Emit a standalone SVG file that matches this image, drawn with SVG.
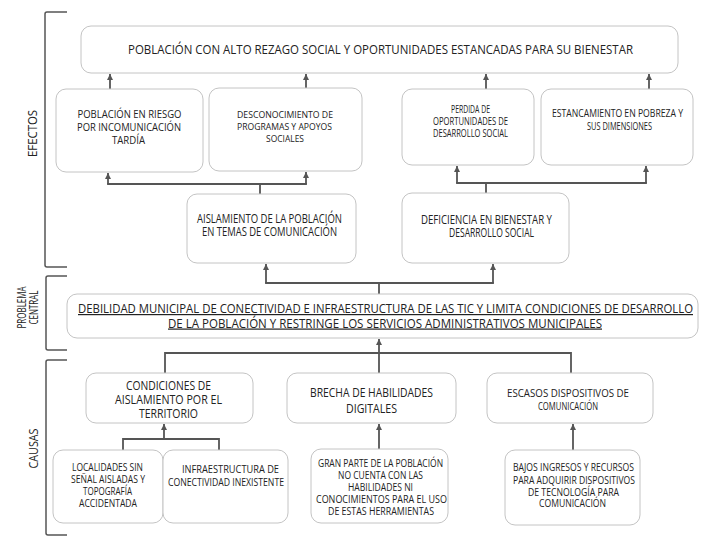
<svg xmlns="http://www.w3.org/2000/svg" width="702" height="539" viewBox="0 0 702 539">
<defs>
<marker id="ah" viewBox="0 0 10 10" refX="10" refY="5" markerWidth="7" markerHeight="6" markerUnits="userSpaceOnUse" orient="auto">
<path d="M0,0 L10,5 L0,10 z" fill="#555"/>
</marker>
</defs>
<style>
.box{fill:#fff;stroke:#c4c4c4;stroke-width:1}
.t{font-family:"Open Sans","Liberation Sans",sans-serif;fill:#222;text-anchor:middle}
.c{fill:none;stroke:#555;stroke-width:1.8}
.a{fill:none;stroke:#555;stroke-width:1.8;marker-end:url(#ah)}
.br{fill:none;stroke:#555;stroke-width:1.5}
</style>
<rect width="702" height="539" fill="#fff"/>

<g id="labels">
<path class="br" d="M67,12 H47 Q45,12 45,14 V265 Q45,267 47,267 H67"/>
<path class="br" d="M67,276 H48 Q46,276 46,278 V348 Q46,350 48,350 H67"/>
<path class="br" d="M67,360 H48 Q46,360 46,362 V533 Q46,535 48,535 H67"/>
<text class="t" font-size="13" transform="translate(36.5,133.5) rotate(-90)" textLength="47" lengthAdjust="spacingAndGlyphs">EFECTOS</text>
<text class="t" font-size="12.5" transform="translate(26,307.5) rotate(-90)" textLength="42" lengthAdjust="spacingAndGlyphs">PROBLEMA</text>
<text class="t" font-size="12.5" transform="translate(38,307.5) rotate(-90)" textLength="34" lengthAdjust="spacingAndGlyphs">CENTRAL</text>
<text class="t" font-size="13" transform="translate(38,448.5) rotate(-90)" textLength="40" lengthAdjust="spacingAndGlyphs">CAUSAS</text>
</g>

<g id="connectors">
<path class="a" d="M110,89 V74"/>
<path class="a" d="M306,88 V74"/>
<path class="a" d="M486,89 V74"/>
<path class="a" d="M649,89 V74"/>
<path class="c" d="M260,194 V184 M107.1,184 H306.9"/>
<path class="a" d="M108,184 V173"/>
<path class="a" d="M306,184 V172"/>
<path class="c" d="M486,193 V183 M456.1,183 H646.9"/>
<path class="a" d="M457,183 V166"/>
<path class="a" d="M646,183 V166"/>
<path class="c" d="M379,294 V283 M265.1,283 H493.9"/>
<path class="a" d="M266,283 V264"/>
<path class="a" d="M493,283 V264"/>
<path class="a" d="M379,373 V339"/>
<path class="c" d="M165,373 V353 H571 V373"/>
<path class="a" d="M164,439 V424"/>
<path class="c" d="M123,450 V439 H219 V450"/>
<path class="a" d="M379,449 V424"/>
<path class="a" d="M573,450 V424"/>
</g>

<g id="n-top">
<rect class="box" x="81" y="26" width="597" height="47" rx="10"/>
<text class="t" font-size="12" x="380.5" y="53.5" textLength="505" lengthAdjust="spacingAndGlyphs">POBLACIÓN CON ALTO REZAGO SOCIAL Y OPORTUNIDADES ESTANCADAS PARA SU BIENESTAR</text>
</g>

<g id="n-riesgo">
<rect class="box" x="56" y="89" width="147" height="83" rx="10"/>
<text class="t" font-size="10" x="129.5" y="118" textLength="104" lengthAdjust="spacingAndGlyphs">POBLACIÓN EN RIESGO</text>
<text class="t" font-size="10" x="129" y="131" textLength="104" lengthAdjust="spacingAndGlyphs">POR INCOMUNICACIÓN</text>
<text class="t" font-size="10" x="128.5" y="144" textLength="33" lengthAdjust="spacingAndGlyphs">TARDÍA</text>
</g>

<g id="n-desconocimiento">
<rect class="box" x="209" y="88" width="153" height="83" rx="10"/>
<text class="t" font-size="9.5" x="285" y="117.5" textLength="96" lengthAdjust="spacingAndGlyphs">DESCONOCIMIENTO  DE</text>
<text class="t" font-size="9.5" x="284.5" y="130" textLength="95" lengthAdjust="spacingAndGlyphs">PROGRAMAS Y APOYOS</text>
<text class="t" font-size="9.5" x="285" y="141.5" textLength="38" lengthAdjust="spacingAndGlyphs">SOCIALES</text>
</g>

<g id="n-perdida">
<rect class="box" x="402" y="89" width="132" height="76" rx="10"/>
<text class="t" font-size="10" x="470.5" y="112.5" textLength="39" lengthAdjust="spacingAndGlyphs">PERDIDA DE</text>
<text class="t" font-size="10" x="470.5" y="125" textLength="75" lengthAdjust="spacingAndGlyphs">OPORTUNIDADES DE</text>
<text class="t" font-size="10" x="470.5" y="137" textLength="75" lengthAdjust="spacingAndGlyphs">DESARROLLO SOCIAL</text>
</g>

<g id="n-estancamiento">
<rect class="box" x="541" y="89" width="152" height="76" rx="10"/>
<text class="t" font-size="10" x="617.5" y="117" textLength="131" lengthAdjust="spacingAndGlyphs">ESTANCAMIENTO EN POBREZA Y</text>
<text class="t" font-size="10" x="619.5" y="130" textLength="65" lengthAdjust="spacingAndGlyphs">SUS DIMENSIONES</text>
</g>

<g id="n-aislamiento-pob">
<rect class="box" x="187" y="194" width="169" height="69" rx="10"/>
<text class="t" font-size="12" x="269.5" y="222.5" textLength="145" lengthAdjust="spacingAndGlyphs">AISLAMIENTO DE LA POBLACIÓN</text>
<text class="t" font-size="12" x="269.5" y="235.5" textLength="135" lengthAdjust="spacingAndGlyphs">EN TEMAS DE COMUNICACIÓN</text>
</g>

<g id="n-deficiencia">
<rect class="box" x="402" y="193" width="167" height="70" rx="10"/>
<text class="t" font-size="12" x="486.5" y="224" textLength="131" lengthAdjust="spacingAndGlyphs">DEFICIENCIA EN BIENESTAR Y</text>
<text class="t" font-size="12" x="491.5" y="236.5" textLength="85" lengthAdjust="spacingAndGlyphs">DESARROLLO SOCIAL</text>
</g>

<g id="n-central">
<rect class="box" x="67" y="294" width="631" height="44" rx="10"/>
<text class="t" font-size="12" x="385.5" y="313" textLength="615" lengthAdjust="spacingAndGlyphs" text-decoration="underline">DEBILIDAD MUNICIPAL DE CONECTIVIDAD E INFRAESTRUCTURA DE LAS TIC Y LIMITA CONDICIONES DE DESARROLLO</text>
<text class="t" font-size="12" x="385" y="327.5" textLength="434" lengthAdjust="spacingAndGlyphs" text-decoration="underline">DE LA POBLACIÓN Y RESTRINGE LOS SERVICIOS ADMINISTRATIVOS MUNICIPALES</text>
</g>

<g id="n-condiciones">
<rect class="box" x="86" y="373" width="167" height="50" rx="10"/>
<text class="t" font-size="12.5" x="168.5" y="390" textLength="85" lengthAdjust="spacingAndGlyphs">CONDICIONES DE</text>
<text class="t" font-size="12.5" x="168.5" y="404" textLength="107" lengthAdjust="spacingAndGlyphs">AISLAMIENTO  POR EL</text>
<text class="t" font-size="12.5" x="168.5" y="418" textLength="59" lengthAdjust="spacingAndGlyphs">TERRITORIO</text>
</g>

<g id="n-brecha">
<rect class="box" x="287" y="373" width="169" height="50" rx="10"/>
<text class="t" font-size="12.5" x="371.5" y="397" textLength="123" lengthAdjust="spacingAndGlyphs">BRECHA DE HABILIDADES</text>
<text class="t" font-size="12.5" x="371.5" y="412.5" textLength="51" lengthAdjust="spacingAndGlyphs">DIGITALES</text>
</g>

<g id="n-escasos">
<rect class="box" x="487" y="373" width="166" height="50" rx="10"/>
<text class="t" font-size="11.5" x="568" y="397" textLength="122" lengthAdjust="spacingAndGlyphs">ESCASOS DISPOSITIVOS DE</text>
<text class="t" font-size="11.5" x="568" y="410" textLength="60" lengthAdjust="spacingAndGlyphs">COMUNICACIÓN</text>
</g>

<g id="n-localidades">
<rect class="box" x="53" y="450" width="110" height="73" rx="10"/>
<text class="t" font-size="10" x="107.5" y="470.5" textLength="71" lengthAdjust="spacingAndGlyphs">LOCALIDADES SIN</text>
<text class="t" font-size="10" x="108" y="482.5" textLength="74" lengthAdjust="spacingAndGlyphs">SEÑAL AISLADAS Y</text>
<text class="t" font-size="10" x="107.5" y="494.5" textLength="49" lengthAdjust="spacingAndGlyphs">TOPOGRAFÍA</text>
<text class="t" font-size="10" x="108" y="506.5" textLength="58" lengthAdjust="spacingAndGlyphs">ACCIDENTADA</text>
</g>

<g id="n-infraestructura">
<rect class="box" x="163" y="450" width="125" height="73" rx="10"/>
<text class="t" font-size="10" x="230.5" y="472.5" textLength="97" lengthAdjust="spacingAndGlyphs">INFRAESTRUCTURA DE</text>
<text class="t" font-size="10" x="226" y="485.5" textLength="116" lengthAdjust="spacingAndGlyphs">CONECTIVIDAD INEXISTENTE</text>
</g>

<g id="n-gran-parte">
<rect class="box" x="311" y="449" width="137" height="74" rx="10"/>
<text class="t" font-size="10" x="380.5" y="466.5" textLength="125" lengthAdjust="spacingAndGlyphs">GRAN PARTE DE LA POBLACIÓN</text>
<text class="t" font-size="10" x="380.5" y="479" textLength="85" lengthAdjust="spacingAndGlyphs">NO CUENTA CON LAS</text>
<text class="t" font-size="10" x="380.5" y="491" textLength="65" lengthAdjust="spacingAndGlyphs">HABILIDADES NI</text>
<text class="t" font-size="10" x="381.5" y="503" textLength="131" lengthAdjust="spacingAndGlyphs">CONOCIMIENTOS PARA EL USO</text>
<text class="t" font-size="10" x="381" y="514.5" textLength="106" lengthAdjust="spacingAndGlyphs">DE ESTAS HERRAMIENTAS</text>
</g>

<g id="n-bajos">
<rect class="box" x="505" y="450" width="135" height="75" rx="10"/>
<text class="t" font-size="10" x="573.5" y="470.5" textLength="121" lengthAdjust="spacingAndGlyphs">BAJOS INGRESOS Y RECURSOS</text>
<text class="t" font-size="10" x="574" y="483.5" textLength="122" lengthAdjust="spacingAndGlyphs">PARA ADQUIRIR DISPOSITIVOS</text>
<text class="t" font-size="10" x="573.5" y="495.5" textLength="91" lengthAdjust="spacingAndGlyphs">DE TECNOLOGÍA PARA</text>
<text class="t" font-size="10" x="572.5" y="507" textLength="67" lengthAdjust="spacingAndGlyphs">COMUNICACIÓN</text>
</g>
</svg>
